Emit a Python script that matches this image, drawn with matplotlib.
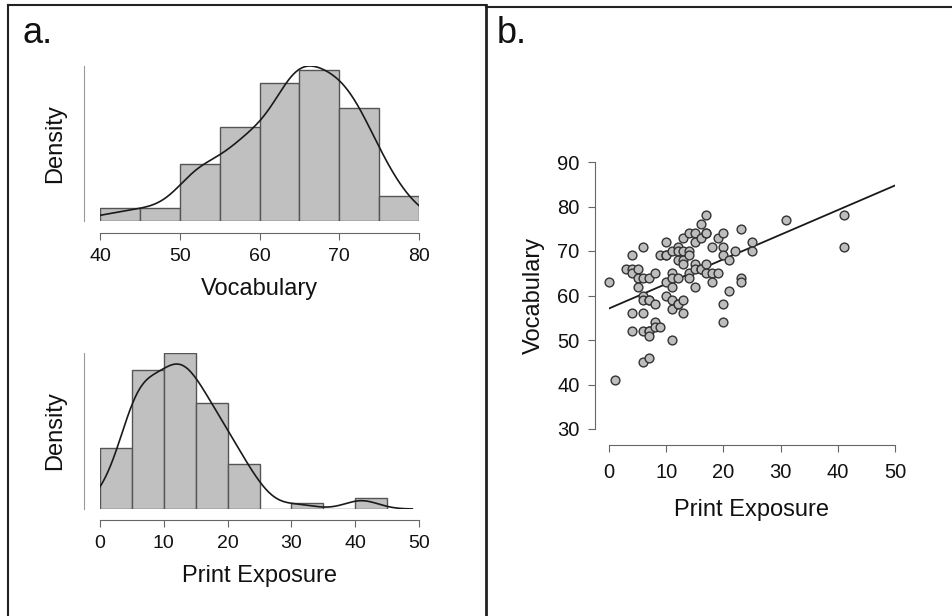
import numpy as np
import matplotlib
matplotlib.use("Agg")
import matplotlib.pyplot as plt
from matplotlib.lines import Line2D

plt.rcParams['font.family'] = ['Liberation Sans', 'DejaVu Sans']

# Scatter data (print exposure, vocabulary)
print_exposure = [0, 1, 3, 4, 4, 4, 4, 4, 5, 5, 5,
                  6, 6, 6, 6, 6, 6, 6, 7, 7, 7, 7, 7, 7, 7, 8, 8, 8, 8, 9, 9,
                  10, 10, 10, 10, 10,
                  11, 11, 11, 11, 11, 11, 11, 12, 12, 12, 12, 12, 12, 13, 13, 13,
                  13, 13, 13, 14, 14, 14, 14, 14, 15, 15, 15, 15, 15,
                  16, 16, 16, 16, 17, 17, 17, 17, 17, 18, 18, 18, 19, 19,
                  20, 20, 20, 20, 20,
                  21, 21, 22, 23, 23, 23, 25, 25, 31, 41, 41]
vocabulary = [63, 41, 66, 66, 65, 69, 56, 52, 66, 64, 62,
              71, 64, 60, 59, 56, 52, 45, 64, 59, 59, 52, 52, 51, 46, 65, 58, 54, 53, 53, 69,
              69, 69, 72, 63, 60,
              70, 65, 64, 62, 59, 57, 50, 71, 70, 68, 64, 58, 58, 73, 70, 68,
              67, 59, 56, 74, 70, 69, 65, 64, 74, 72, 67, 66, 62,
              76, 73, 66, 66, 78, 74, 74, 67, 65, 71, 65, 63, 73, 65,
              74, 71, 69, 58, 54,
              68, 61, 70, 75, 64, 63, 72, 70, 77, 78, 71]

# Histogram counts
vocab_edges = [40, 45, 50, 55, 60, 65, 70, 75, 80]
vocab_counts = [2, 2, 9, 15, 22, 24, 18, 4]
print_edges = [0, 5, 10, 15, 20, 25, 30, 35, 40, 45]
print_counts = [11, 25, 28, 19, 8, 0, 1, 0, 2]

W, H = 952, 616
fig = plt.figure(figsize=(W / 100, H / 100), dpi=100)

def px_axes(left, right, bottom, top):
    return fig.add_axes([left / W, 1 - bottom / H, (right - left) / W, (bottom - top) / H])

def kde_nrd0(data):
    d = np.asarray(data, float)
    n = len(d)
    iqr = np.subtract(*np.percentile(d, [75, 25]))
    bw = 0.9 * min(d.std(ddof=1), iqr / 1.34) * n ** -0.2
    grid = np.linspace(d.min() - 3 * bw, d.max() + 3 * bw, 512)
    dens = np.exp(-0.5 * ((grid[:, None] - d[None, :]) / bw) ** 2).sum(1) / (n * bw * np.sqrt(2 * np.pi))
    return grid, dens

text_col = "#111111"

def hist_panel(ax, edges, counts, data, xticks, xlabel, yoff, xoff):
    edges = np.array(edges, float)
    counts = np.array(counts, float)
    widths = np.diff(edges)
    dens_bar = counts / (counts.sum() * widths)
    ax.bar(edges[:-1], dens_bar, width=widths, align="edge",
           color="#c0c0c0", edgecolor="#555555", linewidth=1.0)
    g, d = kde_nrd0(data)
    ax.plot(g, d, color="#1a1a1a", lw=1.2)
    ax.set_xlim(edges[0], xticks[-1])
    ax.set_ylim(0, max(dens_bar.max(), d.max()))
    for s in ["top", "right"]:
        ax.spines[s].set_visible(False)
    ax.spines["left"].set_position(("outward", xoff * 0.72))
    ax.spines["bottom"].set_position(("outward", yoff * 0.72))
    ax.spines["left"].set_color("#999999")
    ax.spines["bottom"].set_color("#666666")
    ax.spines["bottom"].set_bounds(xticks[0], xticks[-1])
    ax.set_yticks([])
    ax.set_xticks(xticks)
    ax.tick_params(axis="x", length=5, color="#666666", labelsize=14,
                   labelcolor=text_col, pad=6)
    ax.set_xlabel(xlabel, fontsize=17, color=text_col, labelpad=9)
    ax.set_ylabel("Density", fontsize=17, color=text_col, labelpad=13)
    ax.patch.set_visible(False)

ax1 = px_axes(100, 419, 221, 66)
hist_panel(ax1, vocab_edges, vocab_counts, vocabulary, [40, 50, 60, 70, 80], "Vocabulary", 12, 16)

ax2 = px_axes(100, 419, 509, 353)
hist_panel(ax2, print_edges, print_counts, print_exposure, [0, 10, 20, 30, 40, 50], "Print Exposure", 11, 16)

# Scatter panel
ax3 = px_axes(609, 895, 429, 162)
ax3.scatter(print_exposure, vocabulary, s=40, facecolor="#bdbdbd",
            edgecolor="#333333", linewidth=1.0, zorder=3, clip_on=False)
slope, icpt = np.polyfit(print_exposure, vocabulary, 1)
xs = np.array([0, 50])
ax3.plot(xs, icpt + slope * xs, color="#1a1a1a", lw=1.3, zorder=2)
ax3.set_xlim(0, 50)
ax3.set_ylim(30, 90)
for s in ["top", "right"]:
    ax3.spines[s].set_visible(False)
ax3.spines["left"].set_position(("outward", 14 * 0.72))
ax3.spines["bottom"].set_position(("outward", 16 * 0.72))
ax3.spines["left"].set_color("#666666")
ax3.spines["bottom"].set_color("#666666")
ax3.set_xticks([0, 10, 20, 30, 40, 50])
ax3.set_yticks([30, 40, 50, 60, 70, 80, 90])
ax3.tick_params(length=5, color="#666666", labelsize=14.5, labelcolor=text_col, pad=6)
ax3.tick_params(axis="x", pad=8)
ax3.set_xlabel("Print Exposure", fontsize=17, color=text_col, labelpad=12)
ax3.set_ylabel("Vocabulary", fontsize=17, color=text_col, labelpad=9)
ax3.patch.set_visible(False)

# Panel letters
fig.text(22 / W, 1 - 43 / H, "a.", fontsize=26, color=text_col, ha="left", va="baseline")
fig.text(497 / W, 1 - 43 / H, "b.", fontsize=26, color=text_col, ha="left", va="baseline")

# Panel frames
def fline(x0, y0, x1, y1, lw=1.5):
    fig.add_artist(Line2D([x0 / W, x1 / W], [1 - y0 / H, 1 - y1 / H],
                          color="#222222", lw=lw, transform=fig.transFigure))

fline(8, 5, 8, H)
fline(8, 5, 486, 5)
fline(486, 5, 486, H, lw=2)
fline(486, 7, W, 7)

fig.savefig("out.png", dpi=100)
